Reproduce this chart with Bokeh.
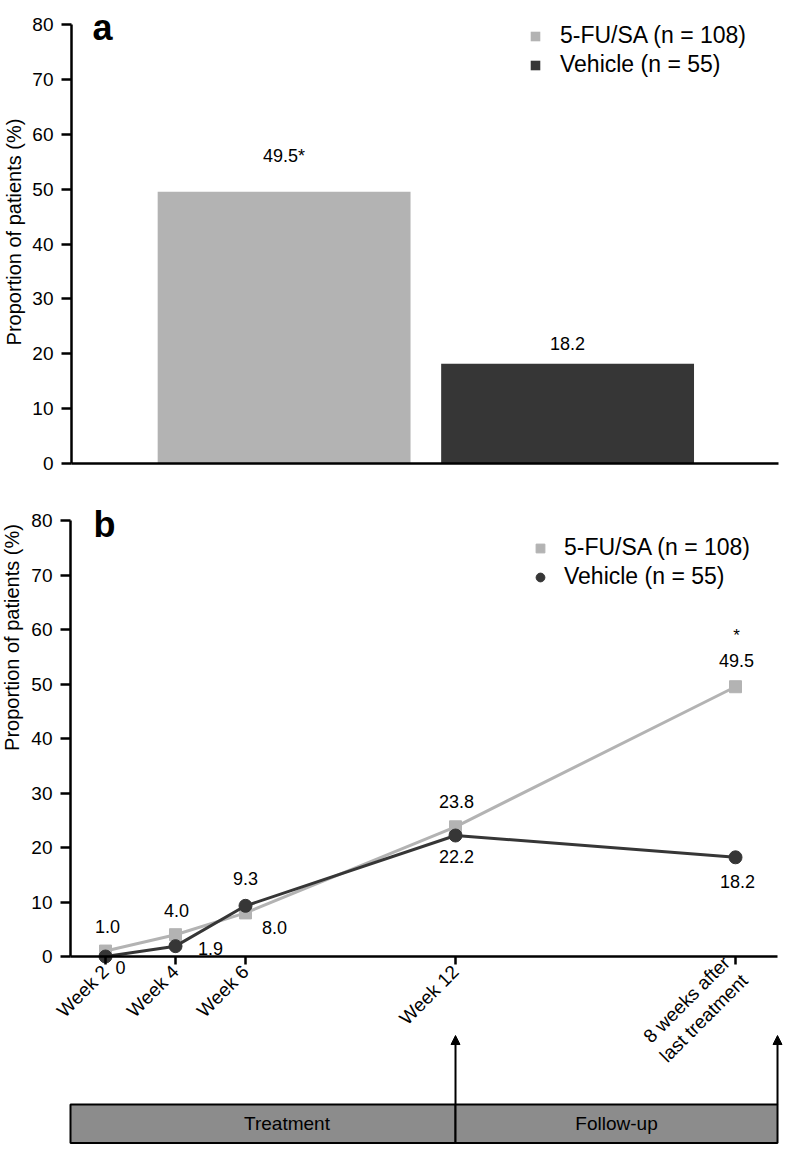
from math import pi
from bokeh.plotting import figure
from bokeh.models import (Range1d, LinearAxis, FixedTicker, Legend, LegendItem, Label,
                          Arrow, NormalHead, ColumnDataSource)
from bokeh.embed import file_html
from bokeh.resources import INLINE
from bokeh.core.properties import value

# ---------------- data ----------------
groups = ["5-FU/SA (n = 108)", "Vehicle (n = 55)"]
bar_values = [49.5, 18.2]
bar_labels = ["49.5*", "18.2"]

weeks = [2, 4, 6, 12, 20]
week_labels = ["Week 2", "Week 4", "Week 6", "Week 12", "8 weeks after\nlast treatment"]
fu_values = [1.0, 4.0, 8.0, 23.8, 49.5]
veh_values = [0.0, 1.9, 9.3, 22.2, 18.2]
fu_labels = ["1.0", "4.0", "8.0", "23.8", "49.5"]
veh_labels = ["0", "1.9", "9.3", "22.2", "18.2"]
fu_marks = ["", "", "", "", "*"]

phases = ["Treatment", "Follow-up"]
phase_start = [1, 12]
phase_end = [12, 21.2]

y_ticks = [0, 10, 20, 30, 40, 50, 60, 70, 80]
y_title = "Proportion of patients (%)"

# ---------------- style ----------------
FONT = "Liberation Sans"
LIGHT = "#b3b3b3"
DARK = "#363636"
BOX = "#8c8c8c"
INK = "black"


def style_yaxis(ax):
    ax.ticker = FixedTicker(ticks=y_ticks)
    ax.bounds = (0, 80)
    ax.axis_line_width = 2.5
    ax.axis_line_color = INK
    ax.major_tick_line_width = 2.5
    ax.major_tick_line_color = INK
    ax.major_tick_out = 10
    ax.major_tick_in = 0
    ax.minor_tick_line_color = None
    ax.major_label_text_font = FONT
    ax.major_label_text_font_size = "19px"
    ax.major_label_text_color = INK
    ax.major_label_standoff = 8
    ax.axis_label_text_font = FONT
    ax.axis_label_text_font_size = "20px"
    ax.axis_label_text_font_style = "normal"
    ax.axis_label_text_color = INK
    ax.axis_label_standoff = 4


# ---------------- panel a ----------------
pa = figure(frame_width=707, frame_height=463, min_border=0, min_border_left=63,
            min_border_right=6, min_border_top=0, min_border_bottom=33,
            x_range=Range1d(-0.75, 1.744), y_range=Range1d(0, 84.374),
            x_axis_location=None, y_axis_location=None,
            output_backend="svg", toolbar_location=None)
pa.outline_line_color = None
pa.grid.visible = False

ya = LinearAxis(axis_label=y_title)
style_yaxis(ya)
pa.add_layout(ya, "left")
xa = LinearAxis(ticker=FixedTicker(ticks=[]), major_tick_line_color=None,
                minor_tick_line_color=None, major_label_text_font_size="0px",
                axis_line_width=2.5, axis_line_color=INK)
pa.add_layout(xa, "below")

bar_src = ColumnDataSource(dict(x=[0, 1], top=bar_values, color=[LIGHT, DARK],
                                lab=bar_labels, yoff=[-36, -20]))
bars = pa.vbar(x="x", top="top", width=0.892, fill_color="color", line_color=None, source=bar_src)
pa.text(x="x", y="top", text="lab", y_offset="yoff", source=bar_src,
        text_align="center", text_baseline="middle",
        text_font=value(FONT), text_font_size="18px", text_color=INK)

leg_a = Legend(items=[LegendItem(label=groups[0], renderers=[bars], index=0),
                      LegendItem(label=groups[1], renderers=[bars], index=1)],
               location=(458, 385), padding=0, margin=0, spacing=2,
               glyph_width=12, glyph_height=12, label_standoff=19,
               label_text_font=FONT, label_text_font_size="23px", label_text_color=INK,
               border_line_color=None, background_fill_alpha=0)
pa.add_layout(leg_a)

pa.add_layout(Label(x=31, y=436, x_units="screen", y_units="screen", text="a",
                    text_font=FONT, text_font_size="36px", text_font_style="bold",
                    text_color=INK, text_align="center", text_baseline="middle"))

# ---------------- panel b (with study timeline) ----------------
pb = figure(frame_width=783, frame_height=648, min_border=0,
            x_range=Range1d(-1.0, 21.371), y_range=Range1d(-34.495, 84.404),
            x_axis_location=None, y_axis_location=None,
            output_backend="svg", toolbar_location=None)
pb.outline_line_color = None
pb.grid.visible = False

yb = LinearAxis(fixed_location=1)
style_yaxis(yb)
pb.add_layout(yb, "left")

xb = LinearAxis(fixed_location=0, bounds=(1, 21.2), ticker=FixedTicker(ticks=weeks),
                major_label_overrides={w: l for w, l in zip(weeks, week_labels)},
                major_label_orientation=pi / 4,
                axis_line_width=2.5, axis_line_color=INK,
                major_tick_line_width=2.5, major_tick_line_color=INK,
                major_tick_out=8, major_tick_in=0, minor_tick_line_color=None,
                major_label_text_font=FONT, major_label_text_font_size="19px",
                major_label_text_color=INK, major_label_standoff=4)
pb.add_layout(xb, "below")

pb.add_layout(Label(x=11, y=507, x_units="screen", y_units="screen",
                    text=y_title, angle=pi / 2,
                    text_font=FONT, text_font_size="20px", text_color=INK,
                    text_align="center", text_baseline="middle"))

pb.line(weeks, fu_values, line_color=LIGHT, line_width=3)
fu_sc = pb.scatter(weeks, fu_values, marker="square", size=12, color=LIGHT)
pb.line(weeks, veh_values, line_color=DARK, line_width=3)
veh_sc = pb.scatter(weeks, veh_values, marker="circle", size=13, color=DARK)

fu_src = ColumnDataSource(dict(x=weeks, y=fu_values, lab=fu_labels, mark=fu_marks,
                               dx=[2, 1, 29, 1, 1], dy=[-25, -24, 15, -25, -26]))
veh_src = ColumnDataSource(dict(x=weeks, y=veh_values, lab=veh_labels,
                                dx=[15, 35, 0, 1, 2], dy=[11, 2, -27, 21, 24]))
for src in (fu_src, veh_src):
    pb.text(x="x", y="y", text="lab", x_offset="dx", y_offset="dy", source=src,
            text_align="center", text_baseline="middle",
            text_font=value(FONT), text_font_size="18px", text_color=INK)
pb.text(x="x", y="y", text="mark", x_offset="dx", y_offset=-51, source=fu_src,
        text_align="center", text_baseline="middle",
        text_font=value(FONT), text_font_size="17px", text_color=INK)

leg_b = Legend(items=[LegendItem(label=groups[0], renderers=[fu_sc]),
                      LegendItem(label=groups[1], renderers=[veh_sc])],
               location=(529, 554), padding=0, margin=0, spacing=2,
               glyph_width=22, glyph_height=22, label_standoff=13,
               label_text_font=FONT, label_text_font_size="23px", label_text_color=INK,
               border_line_color=None, background_fill_alpha=0)
pb.add_layout(leg_b)

pb.add_layout(Label(x=104, y=620, x_units="screen", y_units="screen", text="b",
                    text_font=FONT, text_font_size="36px", text_font_style="bold",
                    text_color=INK, text_align="center", text_baseline="middle"))

# timeline of study phases
box_top, box_bottom, arrow_tip = -27.16, -34.2, -14.5
pb.quad(left=phase_start, right=phase_end, top=box_top, bottom=box_bottom,
        fill_color=BOX, line_color=INK, line_width=2)
pb.text(x=[(s + e) / 2 for s, e in zip(phase_start, phase_end)],
        y=[(box_top + box_bottom) / 2] * len(phases), text=phases,
        x_offset=[24, 0], text_align="center", text_baseline="middle",
        text_font=value(FONT), text_font_size="19px", text_color=INK)
for e in phase_end:
    pb.add_layout(Arrow(x_start=e, y_start=box_top, x_end=e, y_end=arrow_tip,
                        line_width=2, line_color=INK,
                        end=NormalHead(size=9, fill_color=INK, line_color=INK)))

open("out.html", "w").write(file_html([pa, pb], INLINE))
